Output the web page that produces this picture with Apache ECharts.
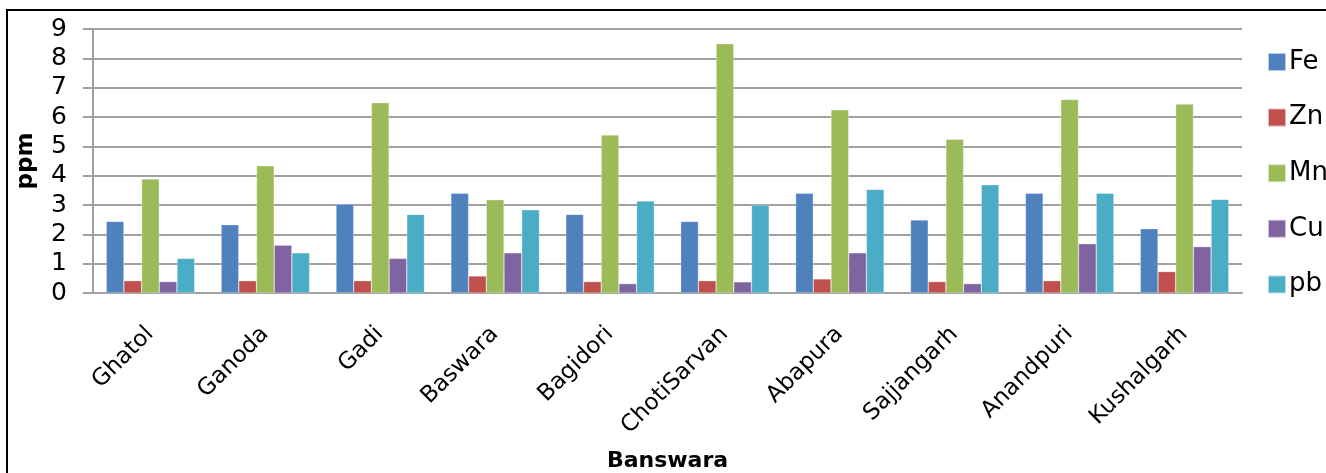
<!DOCTYPE html>
<html>
<head>
<meta charset="utf-8">
<script src="https://cdn.jsdelivr.net/npm/echarts@6/dist/echarts.min.js"></script>
<style>
html,body{margin:0;padding:0;background:#fff;overflow:hidden;}
#c{width:1326px;height:473px;}
</style>
</head>
<body>
<div id="c"></div>
<script>
var categories = ['Ghatol','Ganoda','Gadi','Baswara','Bagidori','ChotiSarvan','Abapura','Sajjangarh','Anandpuri','Kushalgarh'];
var Fe = [2.44, 2.33, 3.03, 3.40, 2.68, 2.44, 3.40, 2.49, 3.40, 2.19];
var Zn = [0.42, 0.42, 0.42, 0.58, 0.39, 0.42, 0.48, 0.39, 0.42, 0.73];
var Mn = [3.89, 4.34, 6.49, 3.18, 5.39, 8.50, 6.25, 5.24, 6.60, 6.44];
var Cu = [0.39, 1.63, 1.18, 1.37, 0.32, 0.38, 1.37, 0.32, 1.68, 1.58];
var pb = [1.18, 1.37, 2.68, 2.84, 3.14, 3.00, 3.53, 3.69, 3.40, 3.19];
var seriesNames = ['Fe','Zn','Mn','Cu','pb'];
var seriesData = [Fe, Zn, Mn, Cu, pb];
var colors = ['#4F81BD','#C0504D','#9BBB59','#8064A2','#4BACC6'];
var yTicks = [0,1,2,3,4,5,6,7,8,9];

var font = '"DejaVu Sans", sans-serif';
var chart = echarts.init(document.getElementById('c'), null, {renderer:'canvas', width: 1326, height: 473});
chart.setOption({
  animation: false,
  color: colors,
  textStyle: {fontFamily: font},
  graphic: [{
    type: 'rect', z: 100, silent: true,
    shape: {x: 7, y: 10, width: 1400, height: 500},
    style: {fill: 'none', stroke: '#000', lineWidth: 2}
  }],
  grid: {left: 93, right: 84, top: 29, bottom: 180, containLabel: false, outerBoundsMode: 'none'},
  legend: {
    orient: 'vertical',
    left: 1262, top: 44,
    itemWidth: 18, itemHeight: 18, itemGap: 29.6,
    icon: 'rect',
    textStyle: {fontSize: 26, color: '#000', fontFamily: font, padding: [0,0,0,-2]},
    data: seriesNames
  },
  xAxis: {
    type: 'category',
    data: categories,
    name: 'Banswara',
    nameLocation: 'middle',
    nameGap: 157,
    nameTextStyle: {fontSize: 22, fontWeight: 'bold', color: '#000', fontFamily: font},
    axisLine: {lineStyle: {color: '#A0A0A0', width: 2}},
    axisTick: {show: false},
    axisLabel: {rotate: 45, fontSize: 23, color: '#000', margin: 21, fontFamily: font, interval: 0,
      verticalAlign: 'top', padding: [0, 12, 0, 0]}
  },
  yAxis: {
    type: 'value',
    min: 0, max: 9, interval: 1,
    name: 'ppm',
    nameLocation: 'middle',
    nameGap: 55,
    nameTextStyle: {fontSize: 23, fontWeight: 'bold', color: '#000', fontFamily: font},
    axisLine: {show: true, lineStyle: {color: '#A0A0A0', width: 2}},
    axisTick: {show: true, length: 10, lineStyle: {color: '#A0A0A0', width: 2}},
    splitLine: {lineStyle: {color: '#A0A0A0', width: 2}},
    axisLabel: {fontSize: 25, color: '#000', margin: 26, fontFamily: font,
      formatter: function(v){ return yTicks.indexOf(v) >= 0 ? String(v) : ''; }}
  },
  series: seriesData.map(function(d, i){
    return {
      name: seriesNames[i],
      type: 'bar',
      data: d,
      barGap: '0%',
      barCategoryGap: '23%',
      itemStyle: {color: colors[i], borderColor: 'rgba(255,255,255,0.6)', borderWidth: 0.5}
    };
  })
});
</script>
</body>
</html>
